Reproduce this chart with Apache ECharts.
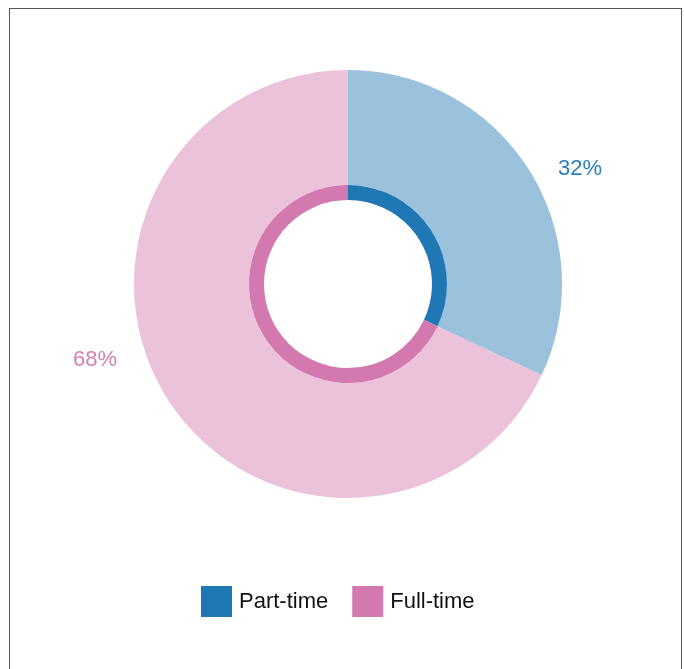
<!DOCTYPE html>
<html><head><meta charset="utf-8">
<script src="https://cdn.jsdelivr.net/npm/echarts@6/dist/echarts.min.js"></script>
<style>
html,body{margin:0;padding:0;background:#fff;overflow:hidden}
#frame{position:absolute;left:9px;top:8px;width:673px;height:700px;border:1px solid #555;box-sizing:border-box}
#chart{position:absolute;left:0;top:0;width:684px;height:669px}
</style></head>
<body>
<div id="frame"></div>
<div id="chart"></div>
<script>
const categories = ['Part-time', 'Full-time'];
const values = [32, 68];
const colors = ['#1f77b4', '#d478b0'];
const lightColors = ['rgba(31,119,180,0.45)', 'rgba(212,120,176,0.45)'];
const labelColors = ['#2a7fba', '#d57fb5'];

const chart = echarts.init(document.getElementById('chart'), null, {renderer: 'canvas'});
const labelPos = [[558, 169], [95, 360]];
chart.setOption({
  animation: false,
  legend: {
    data: categories,
    bottom: 47,
    left: 196,
    itemWidth: 31, itemHeight: 31, itemGap: 24,
    icon: 'rect',
    textStyle: {fontSize: 22, color: '#111', fontFamily: 'Liberation Sans, Arial, sans-serif', padding: [0, 0, 0, 2]}
  },
  series: [
    {
      type: 'pie', center: [348, 284], radius: [84, 99],
      startAngle: 90, clockwise: true, silent: true,
      label: {show: false}, labelLine: {show: false},
      data: categories.map((c, i) => ({name: c, value: values[i], itemStyle: {color: colors[i]}}))
    },
    {
      type: 'pie', center: [348, 284], radius: [99, 214],
      startAngle: 90, clockwise: true, silent: true,
      label: {
        show: true, position: 'outside', formatter: '{d}%',
        fontSize: 22, fontFamily: 'Liberation Sans, Arial, sans-serif'
      },
      labelLine: {show: false},
      labelLayout: (p) => ({x: labelPos[p.dataIndex][0], y: labelPos[p.dataIndex][1], align: p.dataIndex === 0 ? 'left' : 'center', verticalAlign: 'middle'}),
      data: categories.map((c, i) => ({
        name: c, value: values[i],
        itemStyle: {color: lightColors[i]},
        label: {color: labelColors[i]}
      }))
    }
  ]
});
</script>
</body></html>
